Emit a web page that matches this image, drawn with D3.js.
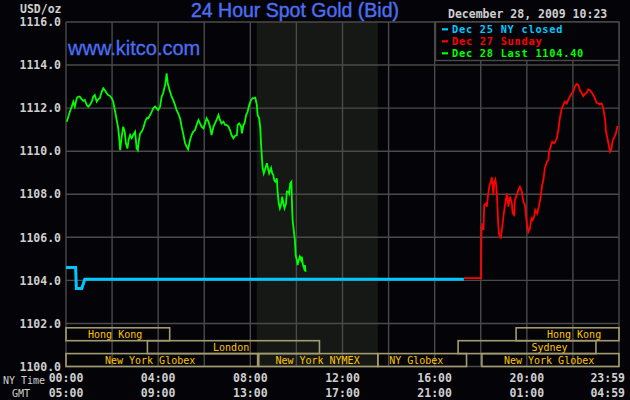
<!DOCTYPE html>
<html>
<head>
<meta charset="utf-8">
<script src="https://cdn.jsdelivr.net/npm/d3@7/dist/d3.min.js"></script>
<style>
  html, body { margin: 0; padding: 0; background: #040408; }
  svg { display: block; }
  text { font-family: "DejaVu Sans Mono", monospace; }
</style>
</head>
<body>
<div id="chart"></div>
<script>
// minutes after 00:00 NY time, price in USD/oz
var dec25Closed = [[0, 1104.60], [25, 1104.60], [27, 1103.62], [41, 1103.62], [49, 1104.05], [1036, 1104.05]];

var dec27Sunday = [
  [1036, 1104.10], [1081, 1104.10], [1082, 1106.34], [1085, 1106.65], [1087, 1106.34], [1089, 1107.50],
  [1094, 1107.58], [1096, 1107.42], [1098, 1107.81], [1102, 1108.35], [1106, 1108.58], [1109, 1108.79],
  [1113, 1107.96], [1115, 1108.58], [1118, 1108.69], [1120, 1108.43], [1122, 1108.04], [1125, 1106.80],
  [1127, 1106.19], [1132, 1105.95], [1136, 1106.49], [1140, 1107.11], [1144, 1107.58], [1148, 1108.04],
  [1152, 1107.42], [1156, 1107.89], [1161, 1107.58], [1163, 1107.11], [1167, 1107.04], [1169, 1107.73],
  [1174, 1107.96], [1178, 1108.20], [1182, 1108.35], [1187, 1108.12], [1191, 1107.65], [1195, 1107.50],
  [1200, 1106.65], [1204, 1106.26], [1208, 1106.42], [1212, 1106.88], [1215, 1106.80], [1219, 1106.96],
  [1222, 1107.27], [1227, 1107.11], [1232, 1107.50], [1236, 1107.89], [1240, 1108.43], [1243, 1108.66],
  [1247, 1109.21], [1252, 1109.51], [1256, 1109.59], [1258, 1109.98], [1262, 1110.21], [1266, 1110.44],
  [1271, 1110.37], [1274, 1110.44], [1278, 1110.60], [1282, 1110.98], [1286, 1111.53], [1291, 1111.99],
  [1295, 1112.14], [1299, 1112.30], [1304, 1112.22], [1308, 1112.38], [1312, 1112.53], [1317, 1112.69],
  [1321, 1112.76], [1325, 1113.00], [1330, 1113.12], [1334, 1113.07], [1338, 1112.84], [1343, 1112.69],
  [1347, 1112.56], [1351, 1112.66], [1356, 1112.72], [1360, 1112.87], [1364, 1112.84], [1369, 1112.72],
  [1373, 1112.61], [1377, 1112.46], [1382, 1112.25], [1386, 1112.22], [1390, 1112.18], [1395, 1112.22],
  [1399, 1111.99], [1404, 1111.45], [1406, 1110.90], [1410, 1110.60], [1413, 1110.29], [1417, 1109.98],
  [1420, 1110.09], [1424, 1110.52], [1428, 1110.67], [1432, 1110.83], [1436, 1111.17]
];

var dec28Last = [
  [2, 1111.37], [6, 1111.60], [10, 1111.83], [15, 1112.07], [19, 1112.30], [23, 1112.07], [28, 1112.46],
  [32, 1112.53], [36, 1112.53], [41, 1112.41], [45, 1112.34], [49, 1112.38], [54, 1112.14], [58, 1112.07],
  [62, 1112.14], [67, 1112.30], [71, 1112.53], [75, 1112.61], [80, 1112.30], [84, 1112.41], [88, 1112.46],
  [93, 1112.76], [97, 1112.92], [102, 1112.81], [106, 1112.69], [110, 1112.61], [115, 1112.56], [119, 1112.46],
  [123, 1112.30], [128, 1111.83], [132, 1111.45], [136, 1111.06], [139, 1110.52], [141, 1110.05], [145, 1110.67],
  [149, 1111.14], [153, 1110.90], [156, 1110.37], [160, 1110.13], [163, 1110.52], [167, 1110.75], [171, 1110.60],
  [175, 1110.75], [180, 1110.90], [184, 1110.13], [187, 1110.05], [190, 1110.52], [193, 1110.83], [197, 1110.90],
  [201, 1111.06], [206, 1111.37], [210, 1111.53], [214, 1111.53], [219, 1111.68], [223, 1111.83], [227, 1111.99],
  [232, 1112.07], [236, 1111.99], [240, 1111.91], [245, 1112.07], [249, 1112.53], [253, 1112.69], [258, 1113.07],
  [260, 1113.31], [262, 1113.62], [265, 1113.15], [267, 1113.00], [271, 1112.76], [275, 1112.53], [279, 1112.38],
  [284, 1112.14], [288, 1111.91], [292, 1111.76], [297, 1111.53], [301, 1111.14], [305, 1110.83], [310, 1110.37],
  [314, 1110.21], [318, 1110.09], [323, 1110.52], [327, 1110.75], [331, 1110.90], [336, 1110.98], [340, 1111.22],
  [345, 1111.45], [349, 1111.29], [353, 1111.14], [358, 1111.06], [362, 1111.29], [366, 1111.53], [371, 1111.37],
  [375, 1111.14], [379, 1110.75], [384, 1111.14], [388, 1111.29], [392, 1111.45], [397, 1111.68], [401, 1111.45],
  [405, 1111.29], [410, 1111.37], [414, 1111.22], [418, 1111.22], [423, 1111.14], [427, 1110.98], [431, 1110.75],
  [436, 1110.60], [440, 1110.71], [445, 1110.75], [447, 1111.22], [451, 1111.29], [456, 1111.14], [458, 1110.83],
  [462, 1111.22], [465, 1111.29], [469, 1111.68], [473, 1111.83], [477, 1112.14], [482, 1112.38], [486, 1112.46],
  [490, 1112.46], [493, 1112.48], [497, 1112.14], [499, 1111.68], [503, 1111.53], [506, 1111.06], [508, 1110.29],
  [510, 1109.74], [512, 1109.21], [515, 1108.97], [518, 1109.13], [523, 1109.44], [529, 1108.97], [534, 1109.22],
  [537, 1108.97], [540, 1108.89], [542, 1108.66], [545, 1108.58], [549, 1108.74], [551, 1108.12], [554, 1107.58],
  [557, 1107.35], [561, 1107.58], [563, 1107.89], [566, 1107.58], [569, 1107.35], [573, 1107.58], [575, 1108.12],
  [579, 1108.12], [581, 1108.04], [584, 1108.51], [587, 1108.58], [588, 1107.81], [590, 1106.80], [593, 1106.34],
  [596, 1105.87], [598, 1105.18], [601, 1104.95], [603, 1104.71], [606, 1104.95], [609, 1105.10], [612, 1104.95],
  [614, 1105.10], [617, 1104.71], [620, 1104.56], [622, 1104.71], [624, 1104.40]
];

var yTicks = [1100, 1102, 1104, 1106, 1108, 1110, 1112, 1114, 1116];
var timeTicks = [0, 240, 480, 720, 960, 1200, 1440];
var nyLabels = ["00:00", "04:00", "08:00", "12:00", "16:00", "20:00", "23:59"];
var gmtLabels = ["05:00", "09:00", "13:00", "17:00", "21:00", "01:00", "04:59"];

var legendLabels = ["Dec 25 NY closed", "Dec 27 Sunday", "Dec 28 Last 1104.40"];
var nymexHours = [502, 812];

// market sessions: row 0 top .. row 2 bottom
var sessions = [
  {name: "Hong Kong", row: 0, start: 0, end: 270, labelAt: 128},
  {name: "Hong Kong", row: 0, start: 1172, end: 1440, labelAt: 1323},
  {name: "London", row: 1, start: 212, end: 660, labelAt: 430},
  {name: "Sydney", row: 1, start: 1021, end: 1380, labelAt: 1259},
  {name: "New York Globex", row: 2, start: 0, end: 499, labelAt: 219},
  {name: "New York NYMEX", row: 2, start: 502, end: 812, labelAt: 655},
  {name: "NY Globex", row: 2, start: 812, end: 1043, labelAt: 912},
  {name: "New York Globex", row: 2, start: 1083, end: 1440, labelAt: 1258}
];

var width = 630, height = 400;
var bg = "#040408", gridColor = "#4a4a4a", textColor = "#cfcfcf";
var seriesColors = ["#00c8ff", "#ff0000", "#00ff00"];

var svg = d3.select("#chart").append("svg")
    .attr("width", width)
    .attr("height", height);

svg.append("rect").attr("width", width).attr("height", height).attr("fill", bg);

var x = d3.scaleLinear().domain([0, 1440]).range([66, 619]);
var y = d3.scaleLinear().domain([1100, 1116]).range([366.5, 22]);

// NYMEX pit hours shading
svg.append("rect")
  .attr("x", x(nymexHours[0]) - 2)
  .attr("y", y(1116))
  .attr("width", x(nymexHours[1]) - x(nymexHours[0]) + 2)
  .attr("height", y(1100) - y(1116))
  .attr("fill", "#151815");

// grid
svg.append("g").selectAll("line")
  .data(d3.range(0, 1441, 120))
  .enter().append("line")
    .attr("x1", function(d){ return x(d); })
    .attr("x2", function(d){ return x(d); })
    .attr("y1", y(1116)).attr("y2", y(1100))
    .attr("stroke", gridColor).attr("stroke-width", 1.4);

svg.append("g").selectAll("line")
  .data(yTicks)
  .enter().append("line")
    .attr("x1", x(0)).attr("x2", x(1440))
    .attr("y1", function(d){ return y(d); })
    .attr("y2", function(d){ return y(d); })
    .attr("stroke", gridColor).attr("stroke-width", 1.4);

// y labels
var yAxis = svg.append("g")
  .attr("transform", "translate(" + (x(0) - 5) + ",0)")
  .call(d3.axisLeft(y).tickValues(yTicks).tickSize(0).tickPadding(0).tickFormat(d3.format(".1f")));
yAxis.select(".domain").remove();
yAxis.selectAll("text")
  .attr("fill", textColor)
  .style("font-family", "DejaVu Sans Mono")
  .style("font-size", "11.5px")
  .style("font-weight", "bold");

svg.append("text")
  .attr("x", 20).attr("y", 12.5)
  .attr("fill", textColor)
  .style("font-size", "11.5px").style("font-weight", "bold")
  .text("USD/oz");

// time labels, NY and GMT rows
var xAxis = svg.append("g").attr("class", "xlabels");
[nyLabels, gmtLabels].forEach(function(labels, r) {
  xAxis.selectAll("text.r" + r)
    .data(timeTicks)
    .enter().append("text")
      .attr("class", "r" + r)
      .attr("x", function(d, i){ return i === timeTicks.length - 1 ? x(d) + 6 : x(d); })
      .attr("y", r === 0 ? 382 : 397)
      .attr("text-anchor", function(d, i){ return i === timeTicks.length - 1 ? "end" : "middle"; })
      .attr("fill", textColor)
      .style("font-size", "11.5px").style("font-weight", "bold")
      .text(function(d, i){ return labels[i]; });
});
svg.append("text").attr("x", 3).attr("y", 384).attr("fill", textColor)
  .style("font-size", "10px").text("NY Time");
svg.append("text").attr("x", 12).attr("y", 396.5).attr("fill", textColor)
  .style("font-size", "10px").text("GMT");

// session boxes
var rowH = 12.9;
var rowTop = function(r){ return y(1100) - (3 - r) * rowH; };
var sess = svg.append("g").selectAll("g")
  .data(sessions)
  .enter().append("g");
sess.append("rect")
  .attr("x", function(d){ return x(d.start); })
  .attr("y", function(d){ return rowTop(d.row); })
  .attr("width", function(d){ return x(d.end) - x(d.start); })
  .attr("height", rowH)
  .attr("fill", "none")
  .attr("stroke", "#a19b6e")
  .attr("stroke-width", 1.6);
sess.append("text")
  .attr("x", function(d){ return x(d.labelAt); })
  .attr("y", function(d){ return rowTop(d.row) + rowH - 3; })
  .attr("text-anchor", "middle")
  .attr("fill", "#ffc400")
  .style("font-size", "10px")
  .text(function(d){ return d.name; });

// price lines
var line = d3.line()
  .x(function(d){ return x(d[0]); })
  .y(function(d){ return y(d[1]); });

[dec25Closed, dec27Sunday, dec28Last].forEach(function(series, i) {
  svg.append("path")
    .datum(series)
    .attr("d", line)
    .attr("fill", "none")
    .attr("stroke", seriesColors[i])
    .attr("stroke-width", i === 0 ? 3 : 1.8)
    .attr("stroke-linejoin", "miter");
});

// legend (rows are tight, so slightly smaller glyphs with extra spacing)
var legend = svg.append("g");
legend.append("rect")
  .attr("x", 435.5).attr("y", y(1116))
  .attr("width", x(1440) - 435.5).attr("height", 38.5)
  .attr("fill", bg).attr("stroke", gridColor).attr("stroke-width", 1.4);
legendLabels.forEach(function(label, i) {
  legend.append("rect")
    .attr("x", 442).attr("y", 28.2 + i * 12)
    .attr("width", 6).attr("height", 2.2)
    .attr("fill", seriesColors[i]);
  legend.append("text")
    .attr("x", 452).attr("y", 33 + i * 12)
    .attr("fill", seriesColors[i])
    .style("font-size", "10.3px").style("font-weight", "bold")
    .style("letter-spacing", "0.75px")
    .text(label);
});

// titles
svg.append("text")
  .attr("x", 295).attr("y", 17.3)
  .attr("text-anchor", "middle")
  .attr("fill", "#4c6ef2")
  .attr("stroke", "#4c6ef2").attr("stroke-width", 0.4)
  .style("font-family", "Liberation Sans, Arial, sans-serif")
  .style("font-size", "19.5px")
  .text("24 Hour Spot Gold (Bid)");

svg.append("text")
  .attr("x", 68).attr("y", 55)
  .attr("fill", "#4c6ef2")
  .attr("stroke", "#4c6ef2").attr("stroke-width", 0.3)
  .style("font-family", "Liberation Sans, Arial, sans-serif")
  .style("font-size", "20px")
  .text("www.kitco.com");

svg.append("text")
  .attr("x", 448).attr("y", 18.3)
  .attr("fill", textColor)
  .style("font-size", "11.5px").style("font-weight", "bold")
  .text("December 28, 2009 10:23");
</script>
</body>
</html>
